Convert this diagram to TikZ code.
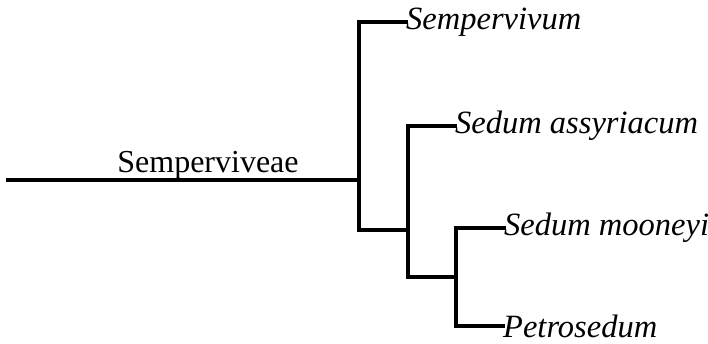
\documentclass[tikz,border=0pt]{standalone}
\usepackage{fontspec}
\setmainfont{Liberation Serif}
\begin{document}
\begin{tikzpicture}[x=1pt,y=-1pt,
  branch/.style={line width=3.2pt,line cap=rect},
  taxon/.style={anchor=west,inner sep=0pt,font=\fontsize{32.5}{38}\selectfont\itshape},
  cladename/.style={anchor=base,inner sep=0pt,font=\fontsize{32}{38}\selectfont}]
\useasboundingbox (0,0) rectangle (708,343);
% internal nodes
\coordinate (root) at (8,180);
\coordinate (n1) at (359,180);
\coordinate (n2) at (408,230);
\coordinate (n3) at (456,277);
% tips
\node[taxon] (t1) at (406,22) {Sempervivum};
\node[taxon] (t2) at (455,126) {Sedum assyriacum};
\node[taxon] (t3) at (504,228) {Sedum mooneyi};
\node[taxon] (t4) at (503,326) {Petrosedum};
\node[cladename] (lab) at (208,172) {Semperviveae};
% branches
\draw[branch] (root) -- (n1);
\draw[branch] (t1.west) -| (n1) |- (n2);
\draw[branch] (t2.west) -| (n2) |- (n3);
\draw[branch] (t3.west) -| (n3) |- (t4.west);
\end{tikzpicture}
\end{document}
